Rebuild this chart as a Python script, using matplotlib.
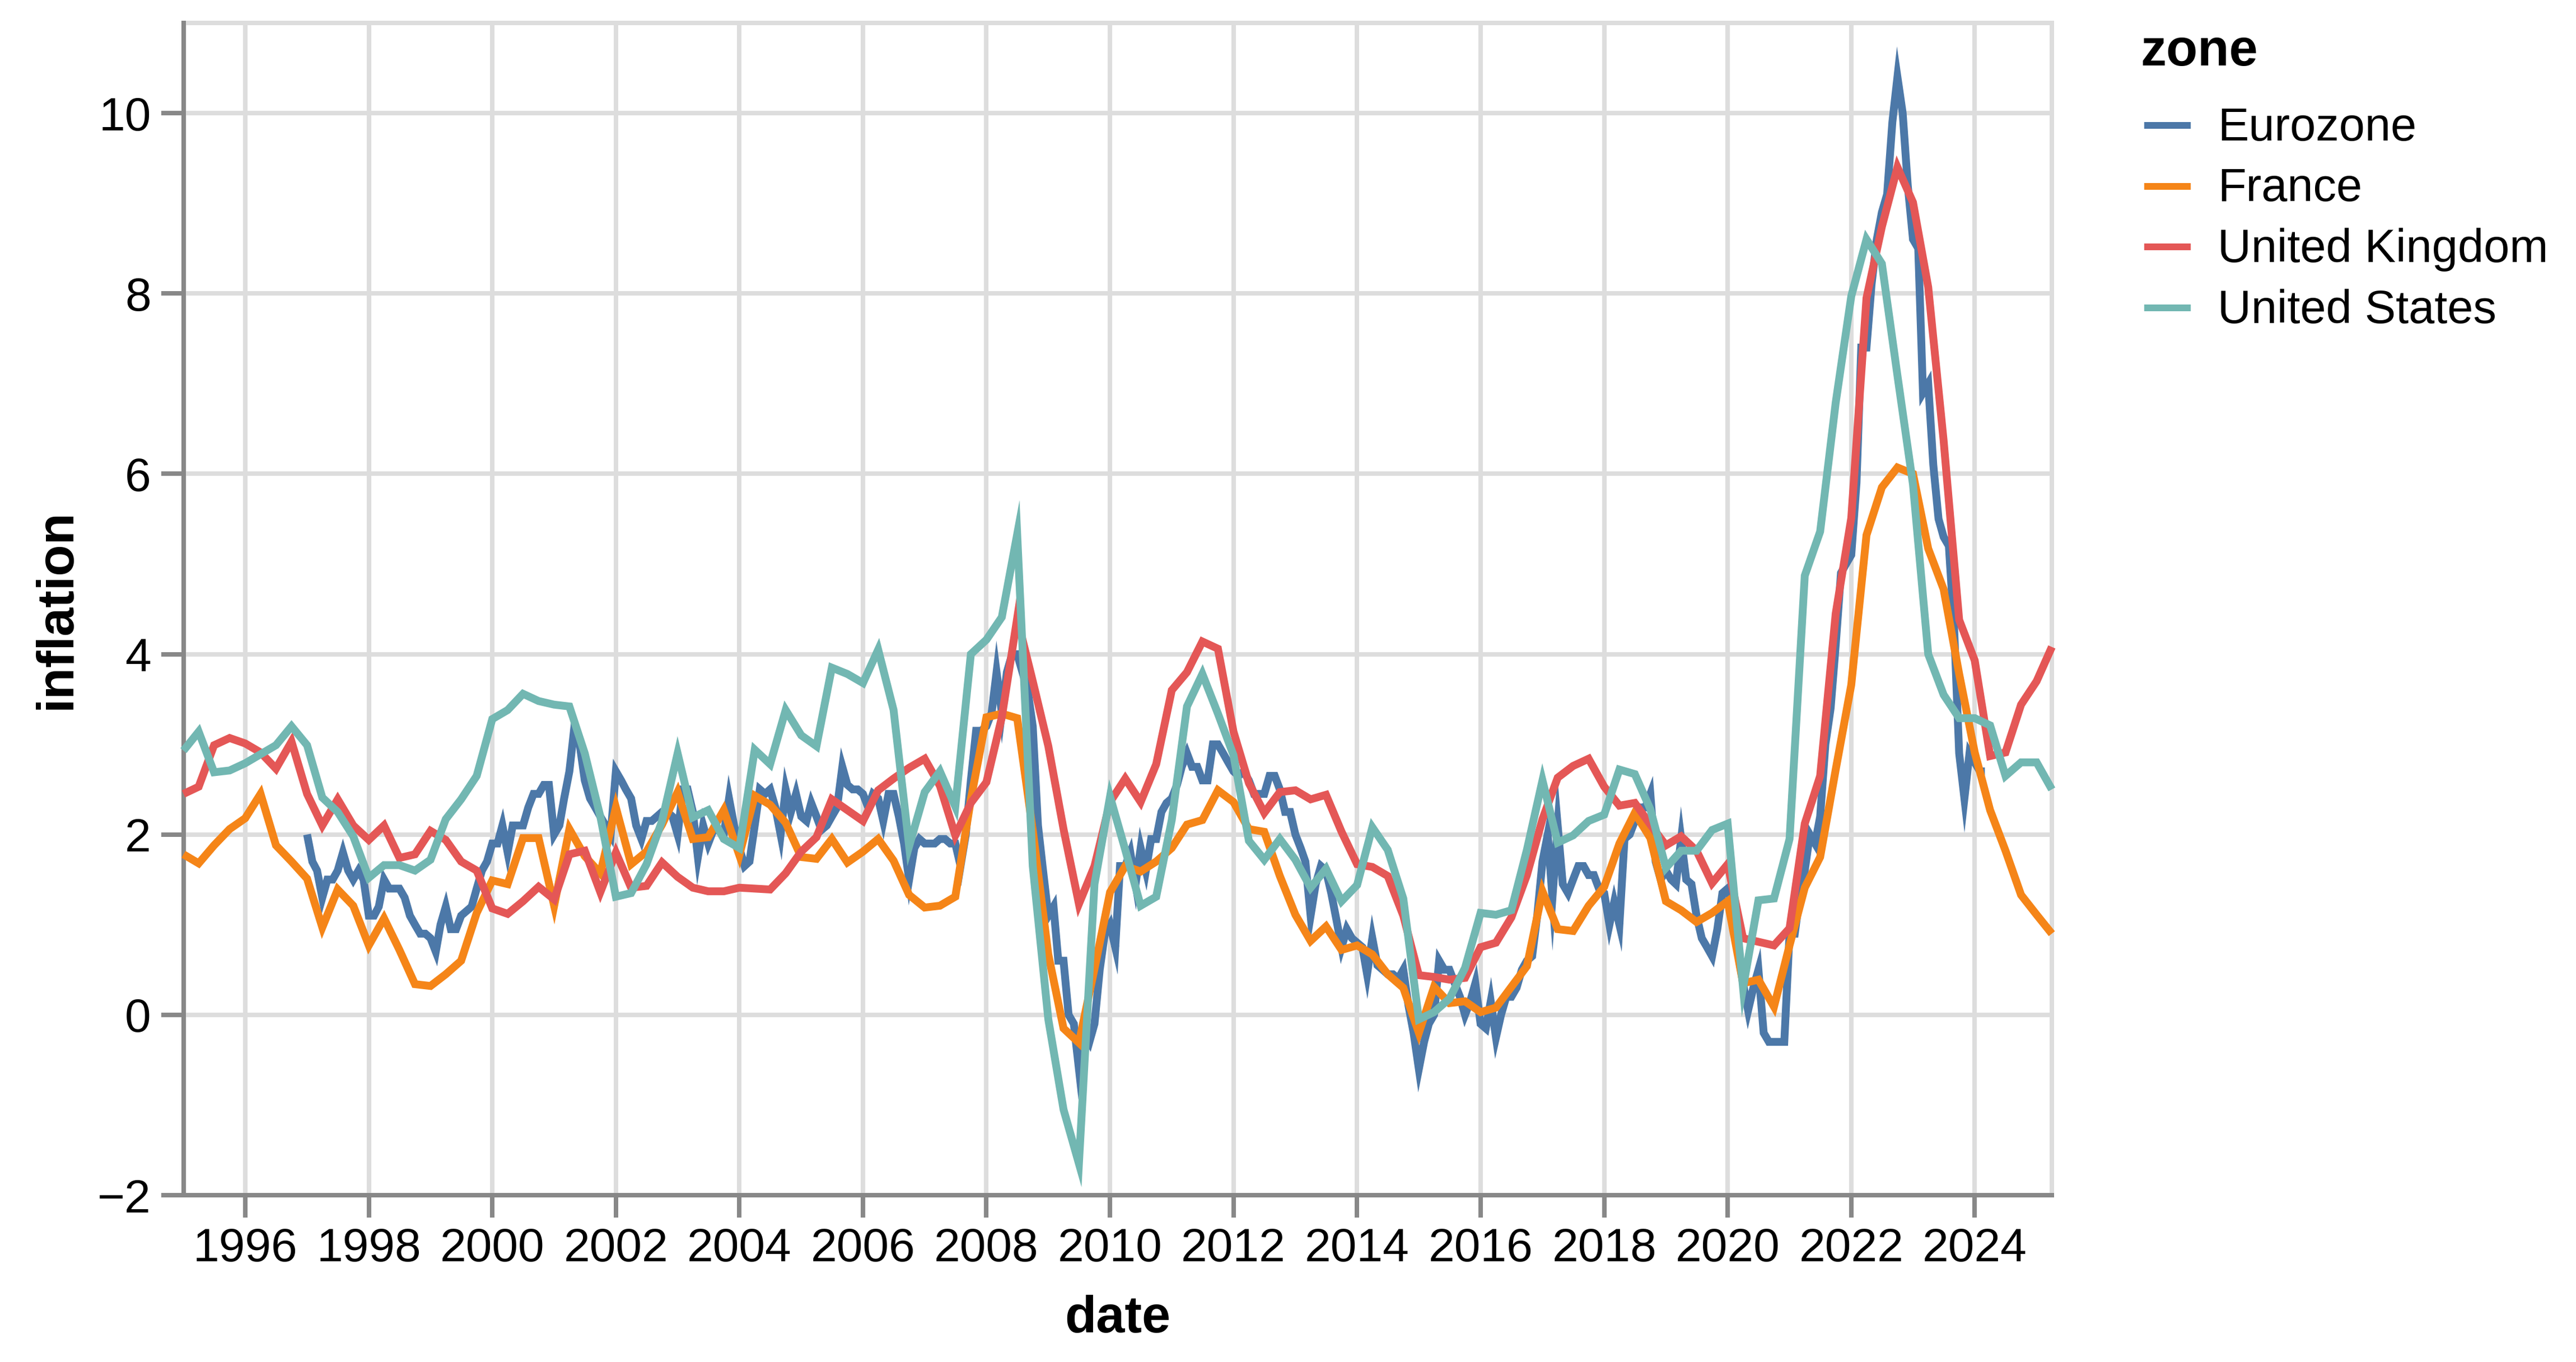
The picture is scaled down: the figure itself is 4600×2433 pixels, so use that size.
import numpy as np
import pandas as pd
import matplotlib
matplotlib.use("Agg")
import matplotlib.pyplot as plt
from matplotlib.lines import Line2D

# ---------------- data ----------------
zones = ["Eurozone", "France", "United Kingdom", "United States"]
colors = ["#4c78a8", "#f58518", "#e45756", "#72b7b2"]

eurozone_start = "1997-01-01"   # monthly
eurozone_inflation = [
    2.0, 1.7, 1.6, 1.3, 1.5, 1.5, 1.6, 1.8, 1.6, 1.5, 1.6, 1.5,      # 1997
    1.1, 1.1, 1.2, 1.5, 1.4, 1.4, 1.4, 1.3, 1.1, 1.0, 0.9, 0.9,      # 1998
    0.85, 0.7, 1.0, 1.2, 0.95, 0.95, 1.1, 1.15, 1.2, 1.4, 1.6, 1.7,  # 1999
    1.9, 1.9, 2.1, 1.8, 2.1, 2.1, 2.1, 2.3, 2.45, 2.45, 2.55, 2.55,  # 2000
    2.0, 2.1, 2.4, 2.7, 3.2, 3.0, 2.6, 2.4, 2.3, 2.2, 2.1, 2.0,      # 2001
    2.7, 2.6, 2.5, 2.4, 2.1, 1.95, 2.15, 2.15, 2.2, 2.25, 2.25, 2.2, # 2002
    2.0, 2.5, 2.5, 2.25, 1.75, 2.1, 1.9, 2.05, 2.05, 2.0, 2.4, 2.1,  # 2003
    1.85, 1.65, 1.7, 2.1, 2.5, 2.45, 2.5, 2.3, 2.0, 2.5, 2.25, 2.45, # 2004
    2.2, 2.15, 2.35, 2.2, 2.05, 2.1, 2.2, 2.3, 2.75, 2.55, 2.5, 2.5, # 2005
    2.45, 2.3, 2.45, 2.4, 2.15, 2.45, 2.45, 2.2, 1.9, 1.5, 1.85, 1.95,  # 2006
    1.9, 1.9, 1.9, 1.95, 1.95, 1.9, 1.9, 1.65, 2.0, 2.6, 3.15, 3.15, # 2007
    3.2, 3.35, 3.8, 3.35, 3.8, 4.0, 4.0, 3.8, 3.6, 3.2, 2.1, 1.6,    # 2008
    1.1, 1.2, 0.6, 0.6, 0.0, -0.1, -0.6, -0.2, -0.3, -0.1, 0.5, 0.9, # 2009
    1.0, 0.75, 1.65, 1.65, 1.8, 1.45, 1.85, 1.6, 1.95, 1.95, 2.25, 2.35,  # 2010
    2.4, 2.55, 2.75, 2.9, 2.75, 2.75, 2.6, 2.6, 3.0, 3.0, 2.9, 2.8,  # 2011
    2.7, 2.65, 2.7, 2.6, 2.45, 2.45, 2.45, 2.65, 2.65, 2.5, 2.25, 2.25,  # 2012
    2.0, 1.85, 1.7, 1.1, 1.45, 1.65, 1.6, 1.35, 1.05, 0.75, 0.95, 0.85,  # 2013
    0.8, 0.75, 0.45, 0.85, 0.55, 0.5, 0.45, 0.45, 0.4, 0.5, 0.1, -0.2,   # 2014
    -0.6, -0.3, -0.1, 0.0, 0.6, 0.5, 0.5, 0.35, 0.2, 0.0, 0.15, 0.35,    # 2015
    -0.1, -0.15, 0.15, -0.25, 0.0, 0.2, 0.2, 0.3, 0.5, 0.6, 0.65, 1.1,   # 2016
    1.7, 2.0, 1.3, 2.1, 1.45, 1.35, 1.5, 1.65, 1.65, 1.55, 1.55, 1.4,    # 2017
    1.35, 1.0, 1.25, 1.0, 1.95, 2.0, 2.15, 2.3, 2.3, 2.45, 1.7, 1.5,     # 2018
    1.6, 1.5, 1.45, 1.95, 1.5, 1.45, 1.1, 0.85, 0.75, 0.65, 0.95, 1.35,  # 2019
    1.4, 1.2, 0.7, 0.35, 0.05, 0.3, 0.5, -0.2, -0.3, -0.3, -0.3, -0.3,   # 2020
    0.9, 0.9, 1.3, 1.6, 2.0, 1.9, 2.2, 3.0, 3.4, 4.1, 4.9, 5.0,      # 2021
    5.1, 5.9, 7.4, 7.4, 8.1, 8.6, 8.9, 9.1, 9.9, 10.4, 10.0, 9.2,    # 2022
    8.6, 8.5, 6.9, 7.0, 6.1, 5.5, 5.3, 5.2, 4.3, 2.9, 2.4, 2.9,      # 2023
    2.8, 2.7, 2.7,                                                   # 2024
]

quarterly_start = "1995-01-01"  # quarterly
france_inflation = [
    1.78, 1.68, 1.88, 2.06,  2.18, 2.45, 1.88, 1.70,  1.51, 0.97, 1.39, 1.21,
    0.77, 1.07, 0.72, 0.34,  0.32, 0.45, 0.60, 1.13,  1.49, 1.45, 1.96, 1.96,
    1.21, 2.06, 1.76, 1.57,  2.30, 1.67, 1.81, 2.11,  2.47, 1.95, 1.97, 2.27,
    1.77, 2.43, 2.33, 2.13,  1.75, 1.73, 1.95, 1.69,  1.81, 1.95, 1.71, 1.33,
    1.19, 1.21, 1.31, 2.39,  3.30, 3.34, 3.29, 2.05,  0.67, -0.15, -0.31, 0.51,
    1.36, 1.65, 1.59, 1.70,  1.85, 2.11, 2.16, 2.49,  2.36, 2.06, 2.03, 1.54,
    1.11, 0.82, 0.98, 0.72,  0.77, 0.67, 0.45, 0.30,  -0.20, 0.31, 0.13, 0.15,
    0.03, 0.08, 0.31, 0.54,  1.37, 0.95, 0.93, 1.21,  1.42, 1.90, 2.24, 1.96,
    1.26, 1.16, 1.03, 1.13,  1.26, 0.35, 0.39, 0.09,  0.77, 1.41, 1.75, 2.72,
    3.66, 5.32, 5.85, 6.07,  6.00, 5.17, 4.72, 3.78,  2.91, 2.27, 1.82, 1.33,
    1.11, 0.90,
]
uk_inflation = [
    2.45, 2.53, 2.99, 3.07,  3.01, 2.91, 2.73, 3.03,  2.45, 2.10, 2.39, 2.10,
    1.94, 2.10, 1.74, 1.78,  2.04, 1.94, 1.70, 1.60,  1.18, 1.12, 1.26, 1.42,
    1.28, 1.78, 1.82, 1.36,  1.80, 1.41, 1.43, 1.69,  1.53, 1.41, 1.37, 1.37,
    1.41, 1.40, 1.39, 1.57,  1.81, 1.97, 2.39, 2.27,  2.15, 2.49, 2.62, 2.74,
    2.84, 2.54, 1.99, 2.35,  2.58, 3.30, 4.40, 3.70,  2.98, 2.06, 1.23, 1.65,
    2.36, 2.62, 2.36, 2.78,  3.60, 3.80, 4.14, 4.06,  3.14, 2.57, 2.24, 2.47,
    2.49, 2.39, 2.44, 2.03,  1.67, 1.64, 1.54, 1.10,  0.44, 0.42, 0.39, 0.41,
    0.75, 0.80, 1.08, 1.55,  2.17, 2.63, 2.76, 2.84,  2.53, 2.32, 2.35, 2.11,
    1.88, 1.98, 1.82, 1.46,  1.67, 0.85, 0.81, 0.77,  0.96, 2.12, 2.65, 4.45,
    5.51, 7.95, 8.74, 9.40,  9.01, 8.07, 6.37, 4.38,  3.93, 2.87, 2.91, 3.44,
    3.70, 4.08,
]
us_inflation = [
    2.93, 3.14, 2.69, 2.71,  2.79, 2.89, 2.99, 3.20,  2.99, 2.41, 2.25, 1.98,
    1.52, 1.66, 1.66, 1.60,  1.72, 2.17, 2.39, 2.65,  3.28, 3.38, 3.56, 3.48,
    3.44, 3.42, 2.90, 2.20,  1.31, 1.35, 1.67, 2.15,  2.90, 2.19, 2.27, 1.95,
    1.85, 2.94, 2.78, 3.38,  3.10, 2.98, 3.85, 3.78,  3.68, 4.05, 3.38, 1.87,
    2.47, 2.70, 2.31, 4.00,  4.16, 4.41, 5.33, 1.65,  -0.05, -1.05, -1.65, 1.45,
    2.42, 1.83, 1.21, 1.31,  2.16, 3.42, 3.78, 3.34,  2.88, 1.93, 1.72, 1.95,
    1.72, 1.41, 1.62, 1.26,  1.44, 2.08, 1.83, 1.29,  -0.05, 0.03, 0.18, 0.52,
    1.13, 1.11, 1.16, 1.83,  2.60, 1.91, 1.99, 2.15,  2.22, 2.72, 2.67, 2.28,
    1.63, 1.82, 1.82, 2.05,  2.12, 0.30, 1.27, 1.29,  1.95, 4.87, 5.36, 6.79,
    7.97, 8.60, 8.33, 7.09,  5.88, 4.00, 3.55, 3.29,  3.29, 3.21, 2.65, 2.80,
    2.80, 2.50,
]

x_tick_years = list(range(1996, 2025, 2))
y_ticks = [-2, 0, 2, 4, 6, 8, 10]
x_domain = ("1995-01-01", "2025-04-01")
y_domain = (-2, 11)

# ---------------- layout ----------------
W, H, DPI = 4600, 2433, 100
PX = 72.0 / DPI  # points per pixel
plt.rcParams["font.family"] = ["Liberation Sans", "DejaVu Sans"]

fig = plt.figure(figsize=(W / DPI, H / DPI), dpi=DPI, facecolor="white")
L, R, T, B = 327.6, 3664, 41, 2135
ax = fig.add_axes([L / W, 1 - B / H, (R - L) / W, (B - T) / H])

def fx(px):
    return px / W

def fy(py):
    return 1 - py / H

series = [
    (pd.date_range(eurozone_start, periods=len(eurozone_inflation), freq="MS"), eurozone_inflation),
    (pd.date_range(quarterly_start, periods=len(france_inflation), freq="QS"), france_inflation),
    (pd.date_range(quarterly_start, periods=len(uk_inflation), freq="QS"), uk_inflation),
    (pd.date_range(quarterly_start, periods=len(us_inflation), freq="QS"), us_inflation),
]

LINE_W = 14 * PX
for (dates, vals), c in zip(series, colors):
    ax.plot(dates, vals, color=c, lw=LINE_W, solid_joinstyle="miter",
            solid_capstyle="butt", clip_on=False, zorder=3)

ax.set_xlim(pd.Timestamp(x_domain[0]), pd.Timestamp(x_domain[1]))
ax.set_ylim(*y_domain)

ax.set_xticks([pd.Timestamp(f"{y}-01-01") for y in x_tick_years])
ax.set_xticklabels([str(y) for y in x_tick_years])
ax.set_yticks(y_ticks)

ax.set_axisbelow(True)
ax.grid(True, color="#dddddd", lw=8 * PX)
for side in ("left", "bottom"):
    ax.spines[side].set_color("#888888")
    ax.spines[side].set_linewidth(8 * PX)
    ax.spines[side].set_zorder(2)
for side in ("top", "right"):
    ax.spines[side].set_color("#dddddd")
    ax.spines[side].set_linewidth(8 * PX)
    ax.spines[side].set_zorder(1)

ax.tick_params(axis="both", length=40 * PX, width=8 * PX, color="#888888",
               labelsize=84 * PX, labelcolor="black")
ax.tick_params(axis="x", pad=17 * PX)
ax.tick_params(axis="y", pad=18 * PX)

# axis titles
fig.text(fx(1996), fy(2380), "date", fontsize=92 * PX, fontweight="bold",
         ha="center", va="baseline")
fig.text(fx(126), fy(1088), "inflation", fontsize=92 * PX, fontweight="bold",
         rotation=90, rotation_mode="anchor", ha="center", va="baseline")

# legend
fig.text(fx(3822), fy(117), "zone", fontsize=92 * PX, fontweight="bold",
         ha="left", va="baseline")
for i, (z, c) in enumerate(zip(zones, colors)):
    yc = 224 + i * 108.5
    fig.add_artist(Line2D([fx(3829), fx(3912)], [fy(yc), fy(yc)],
                          transform=fig.transFigure, color=c, lw=12 * PX,
                          solid_capstyle="butt"))
    fig.text(fx(3960), fy(yc + 27), z, fontsize=83 * PX, ha="left",
             va="baseline")

fig.savefig("out.png", dpi=DPI, facecolor="white")
